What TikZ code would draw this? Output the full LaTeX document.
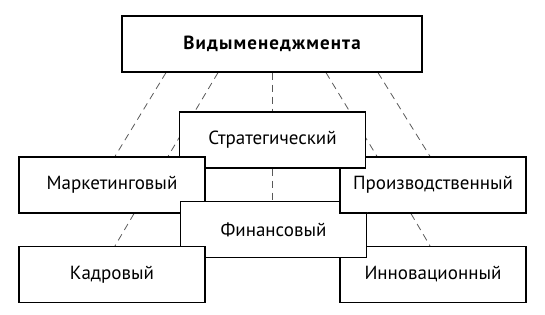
\documentclass[tikz,border=0pt]{standalone}
\usepackage{fontspec}
\setmainfont{PT Sans}
\usetikzlibrary{backgrounds}

\begin{document}
\begin{tikzpicture}[x=1pt, y=-1pt, font=\fontsize{19}{22}\selectfont,
    box/.style={draw, fill=white, line width=1.3pt, minimum width=186pt, minimum height=56pt, inner sep=0pt},
    link/.style={draw=black!65, line width=0.8pt, dash pattern=on 7pt off 5pt}]

    \useasboundingbox (0,0) rectangle (545,314);

    %%% Top box
    \node (kinds) [box, minimum width=300pt] at (272,44)
        {\bfseries\addfontfeature{LetterSpace=6}Видыменеджмента};

    %%% Kinds of management (order matters: later boxes lie over earlier ones)
    \node (innov) [box] at (433,274.5) {Инновационный};
    \node (prod)  [box] at (433,185)   {Производственный};
    \node (strat) [box] at (272.5,140) {Стратегический};
    \node (mark)  [box] at (112,185)   {Маркетинговый};
    \node (fin)   [box] at (273.5,229.5) {Финансовый};
    \node (pers)  [box] at (112,274.5) {Кадровый};

    % Производственный lies over the corner of Финансовый
    \begin{scope}
        \clip (fin.north west) rectangle (fin.south east);
        \node (prodcorner) [box] at (prod) {};
    \end{scope}

    %%% Dashed links behind the boxes
    \begin{scope}[on background layer]
        \draw[link] ([xshift=-106pt]kinds.south) -- ([xshift=3pt]mark.north);
        \draw[link] ([xshift=-54pt]kinds.south)  -- ([xshift=56pt]mark.north);
        \draw[link] (kinds.south) -- (kinds.south |- fin.north);
        \draw[link] ([xshift=54pt]kinds.south)   -- ([xshift=-56pt]prod.north);
        \draw[link] ([xshift=106pt]kinds.south)  -- ([xshift=-3pt]prod.north);
        \draw[link] ([xshift=22pt]mark.south)    -- ([xshift=3pt]pers.north);
        \draw[link] ([xshift=-22pt]prod.south)   -- ([xshift=-3pt]innov.north);
    \end{scope}

\end{tikzpicture}
\end{document}
